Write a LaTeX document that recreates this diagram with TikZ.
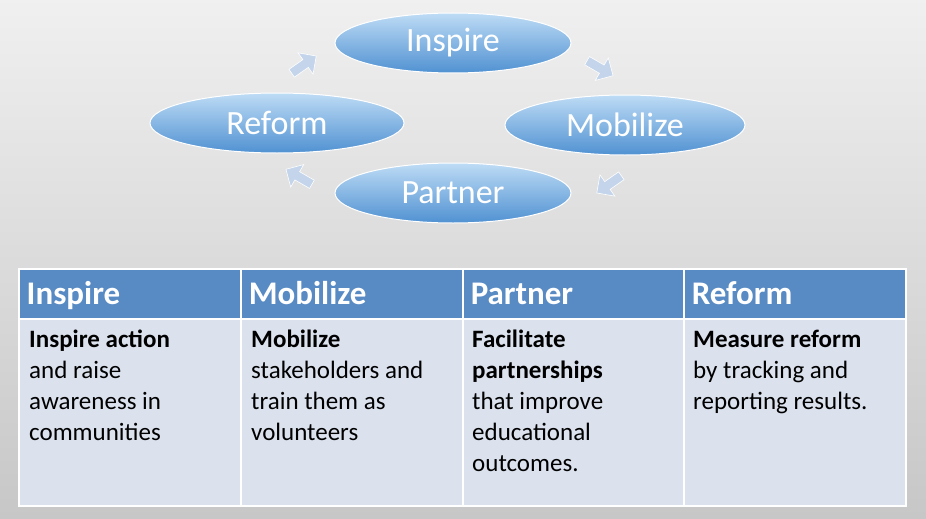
\documentclass[tikz,border=0pt]{standalone}
\usepackage{fontspec}
\setmainfont{Carlito}
\usetikzlibrary{shapes.geometric,shapes.arrows}
\definecolor{hdrblue}{RGB}{88,138,196}
\definecolor{cellblue}{RGB}{219,226,238}
\definecolor{ovaltop}{RGB}{190,220,245}
\definecolor{ovalbot}{RGB}{80,145,210}
\definecolor{arrowfill}{RGB}{195,212,235}
\tikzset{
  oval/.style={ellipse,draw=white,line width=1pt,top color=ovaltop,bottom color=ovalbot,
    text=white,font=\fontsize{34}{34}\selectfont,minimum height=60pt,inner sep=0pt},
  turn/.style={single arrow,fill=arrowfill,draw=white,line width=0.6pt,minimum height=30pt,
    minimum width=26pt,single arrow head extend=4pt,inner sep=2pt},
  hdr/.style={fill=hdrblue,draw=white,line width=1.5pt,text=white,anchor=north west,
    font=\bfseries\fontsize{33}{33}\selectfont,minimum width=222pt,minimum height=50pt,
    text width=206pt,align=left,text height=25pt,text depth=3pt},
  cell/.style={fill=cellblue,draw=white,line width=1.5pt,anchor=north west,
    minimum width=222pt,minimum height=187pt},
  celltext/.style={anchor=north west,font=\fontsize{25}{31}\selectfont,align=left,inner sep=0pt}
}
\begin{document}
\begin{tikzpicture}[x=1pt,y=-1pt]
\fill[top color=white!94!black,bottom color=black!22] (0,0) rectangle (926,519);
\useasboundingbox (0,0) rectangle (926,519);
% cycle
\node[oval,minimum width=236pt] (inspire) at (453,43) {Inspire};
\node[oval,minimum width=254pt] (reform) at (277,123) {Reform};
\node[oval,minimum width=240pt] (mobilize) at (625,125) {Mobilize};
\node[oval,minimum width=236pt] (partner) at (453,193) {Partner};
\node[turn,rotate=35] (a1) at (302,66) {};
\node[turn,rotate=-30] (a2) at (598,67) {};
\node[turn,rotate=-145] (a3) at (611,183) {};
\node[turn,rotate=150] (a4) at (301,178) {};
% table
\node[hdr] (h1) at (18,268) {Inspire};
\node[hdr] (h2) at (240,268) {Mobilize};
\node[hdr] (h3) at (462,268) {Partner};
\node[hdr] (h4) at (683,268) {Reform};
\node[cell] (c1) at (18,318) {};
\node[cell] (c2) at (240,318) {};
\node[cell] (c3) at (462,318) {};
\node[cell] (c4) at (683,318) {};
\node[celltext] (t1) at (29,330) {\textbf{Inspire action}\\and raise\\awareness in\\communities};
\node[celltext] (t2) at (251,330) {\textbf{Mobilize}\\stakeholders and\\train them as\\volunteers};
\node[celltext] (t3) at (472,330) {\textbf{Facilitate}\\\textbf{partnerships}\\that improve\\educational\\outcomes.};
\node[celltext] (t4) at (693,330) {\textbf{Measure reform}\\by tracking and\\reporting results.};
\end{tikzpicture}
\end{document}
